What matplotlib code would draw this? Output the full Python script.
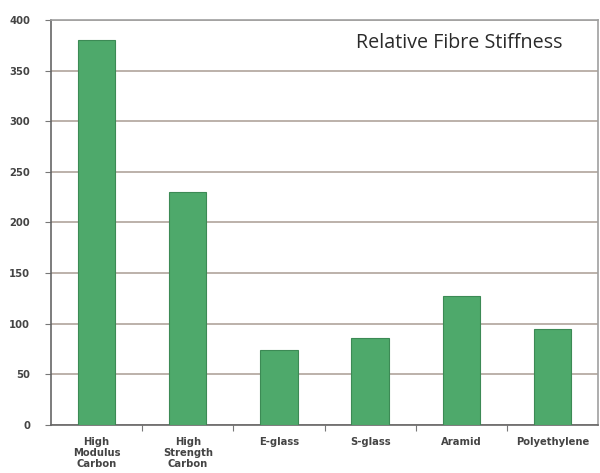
import matplotlib
matplotlib.use("Agg")
import matplotlib.pyplot as plt
import numpy as np

# fibre types and relative stiffness
fibres = ["High\nModulus\nCarbon", "High\nStrength\nCarbon", "E-glass",
          "S-glass", "Aramid", "Polyethylene"]
stiffness = [380, 230, 74, 86, 127, 95]
y_ticks = [0, 50, 100, 150, 200, 250, 300, 350, 400]

fig = plt.figure(figsize=(6.0, 4.73), dpi=100)
ax = fig.add_axes([51 / 600, 1 - 425 / 473, 547 / 600, 405 / 473])

ind = np.arange(len(fibres))
ax.bar(ind, stiffness, width=0.41, color="#4ea96b", edgecolor="#3c8a55",
       linewidth=0.8, zorder=3)

ax.set_xlim(-0.5, len(fibres) - 0.5)
ax.set_ylim(0, 400)
ax.set_yticks(y_ticks)
ax.yaxis.grid(True, color="#b0a49c", linewidth=1.2, zorder=0)

# ticks between categories on the x axis
ax.set_xticks(ind[:-1] + 0.5)
ax.set_xticklabels([])
ax.tick_params(axis="x", length=4, color="#777777")
ax.tick_params(axis="y", length=4, color="#777777", pad=11)
for lab in ax.get_yticklabels():
    lab.set_fontfamily("DejaVu Sans")
    lab.set_fontweight("bold")
    lab.set_fontsize(7.2)
    lab.set_color("#444444")

for i, name in enumerate(fibres):
    ax.text(i, -12, name, ha="center", va="top", fontsize=7.2,
            fontfamily="DejaVu Sans", fontweight="bold", color="#444444",
            linespacing=1.1, transform=ax.transData, clip_on=False)

for side in ["left", "bottom"]:
    ax.spines[side].set_color("#666666")
    ax.spines[side].set_linewidth(1.2)
for side in ["top", "right"]:
    ax.spines[side].set_color("#a0a0a0")
    ax.spines[side].set_linestyle((0, (2, 1)))
    ax.spines[side].set_linewidth(1.2)

ax.text((563 - 51) / 547, 0.943, "Relative Fibre Stiffness",
        transform=ax.transAxes, ha="right", va="center", fontsize=14.2,
        fontfamily="Open Sans", color="#2a2a2a")

fig.savefig("out.png", dpi=100, facecolor="white")
